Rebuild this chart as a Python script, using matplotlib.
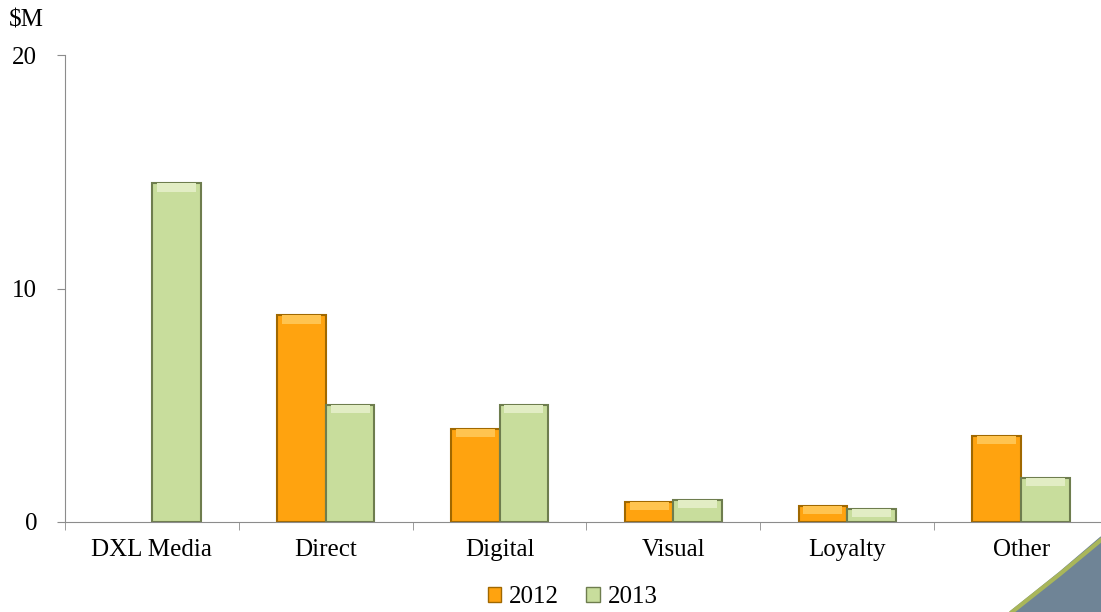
import matplotlib.pyplot as plt
from matplotlib.patches import Polygon, Patch
import numpy as np

# data
categories = ['DXL Media', 'Direct', 'Digital', 'Visual', 'Loyalty', 'Other']
v2012 = [0, 8.85, 4.0, 0.86, 0.69, 3.68]
v2013 = [14.5, 5.0, 5.0, 0.94, 0.55, 1.88]

plt.rcParams['font.family'] = ['Liberation Serif', 'DejaVu Serif']

fig = plt.figure(figsize=(11.01, 6.12), dpi=100)
ax = fig.add_axes([65 / 1101, 1 - 522 / 612, 1043 / 1101, (522 - 55) / 612])

x = np.arange(len(categories))
w = 0.28
b1 = ax.bar(x - w / 2, v2012, w, color='#FFA30F', edgecolor='#A06800', linewidth=1.5)
b2 = ax.bar(x + w / 2, v2013, w, color='#C8DD9C', edgecolor='#6E7D4E', linewidth=1.5)
for r, v in zip(b1, v2012):
    if v == 0:
        r.set_visible(False)

# light top band for a bit of bevel look
ax.bar(x - w / 2, [min(0.35, v) for v in v2012], w * 0.8,
       bottom=[v - min(0.35, v) for v in v2012], color='#FFC450', linewidth=0)
ax.bar(x + w / 2, [min(0.35, v) for v in v2013], w * 0.8,
       bottom=[v - min(0.35, v) for v in v2013], color='#E2EDC4', linewidth=0)

ax.set_xlim(-0.5, len(categories) - 0.5)
ax.set_ylim(0, 20)
ax.set_yticks([0, 10, 20])
ax.set_xticks(x)
ax.set_xticklabels(categories)
ax.set_xticks(np.arange(-0.5, len(categories)), minor=True)

for s in ['top', 'right']:
    ax.spines[s].set_visible(False)
ax.spines['left'].set_color('#8C8C8C')
ax.spines['bottom'].set_color('#8C8C8C')

ax.tick_params(axis='y', length=6, color='#8C8C8C', labelsize=18, pad=14)
ax.tick_params(axis='x', which='major', length=0, labelsize=18, pad=12)
ax.tick_params(axis='x', which='minor', length=6, color='#8C8C8C')

fig.text(9 / 1101, 1 - 20 / 612, '\\$M', fontsize=18, va='center', ha='left')

handles = [Patch(facecolor='#FFA30F', edgecolor='#A06800', label='2012'),
           Patch(facecolor='#C8DD9C', edgecolor='#6E7D4E', label='2013')]
fig.legend(handles=handles, loc='center', bbox_to_anchor=(0.52, 0.024), ncol=2,
           frameon=False, fontsize=18, handlelength=0.55, handleheight=0.55,
           handletextpad=0.3, columnspacing=1.1, borderpad=0)

# decorative corner
corner = Polygon([(1010 / 1101, 0), (1060 / 1101, 40 / 612), (1101 / 1101, 75 / 612), (1, 0)],
                 closed=True, transform=fig.transFigure, color='#6F8496', zorder=0)
fig.patches.append(corner)
fig.lines.append(plt.Line2D([1012 / 1101, 1060 / 1101, 1], [0, 38 / 612, 72 / 612],
                            transform=fig.transFigure, color='#A9B65A', linewidth=3))

fig.savefig('out.png', dpi=100)
